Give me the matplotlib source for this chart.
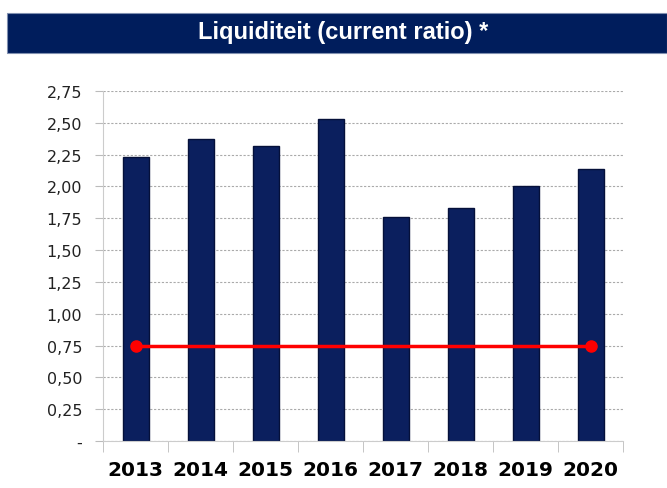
import matplotlib
matplotlib.use("Agg")
import matplotlib.pyplot as plt
from matplotlib.patches import Rectangle

# data
years = ["2013", "2014", "2015", "2016", "2017", "2018", "2019", "2020"]
ratio = [2.23, 2.37, 2.32, 2.53, 1.76, 1.83, 2.00, 2.14]
norm = 0.75
yticks = [0, 0.25, 0.5, 0.75, 1.0, 1.25, 1.5, 1.75, 2.0, 2.25, 2.5, 2.75]
ytick_labels = ["-", "0,25", "0,50", "0,75", "1,00", "1,25", "1,50",
                "1,75", "2,00", "2,25", "2,50", "2,75"]

navy = "#0b1f5e"

fig = plt.figure(figsize=(6.67, 4.89), dpi=100)

# title banner
fig.patches.append(Rectangle((7 / 667, 1 - 54 / 489), 660 / 667, 40 / 489,
                             transform=fig.transFigure, facecolor="#001d5c",
                             edgecolor="#8090b0", linewidth=0.8, zorder=0))
fig.text(343 / 667, 1 - 33 / 489, "Liquiditeit (current ratio) *", color="white",
         fontsize=17, fontweight="bold", family="Liberation Sans",
         ha="center", va="center")

ax = fig.add_axes([103 / 667, 1 - 442 / 489, 520 / 667, 350 / 489])
x = list(range(len(years)))
ax.bar(x, ratio, width=0.4, color=navy, edgecolor="#05103a", linewidth=1.0, zorder=2)
ax.plot([x[0], x[-1]], [norm, norm], color="#ff0000", linewidth=2.5, zorder=3)
ax.plot([x[0], x[-1]], [norm, norm], "o", color="#ff0000", markersize=8, zorder=4)

ax.set_xlim(-0.5, len(years) - 0.5)
ax.set_ylim(0, 2.75)
ax.set_yticks(yticks)
ax.set_yticklabels(ytick_labels, fontsize=11.5, color="#222222", family="DejaVu Sans")
ax.set_xticks(x)
ax.set_xticklabels(years, fontsize=14.5, fontweight="bold", family="DejaVu Sans")
ax.tick_params(axis="x", length=0, pad=14)
ax.set_xticks([i + 0.5 for i in range(-1, len(years))], minor=True)
ax.tick_params(axis="x", which="minor", length=8, color="#bbbbbb")
ax.tick_params(axis="y", length=6, color="#bbbbbb", pad=9)

ax.grid(axis="y", linestyle=(0, (2, 1.5)), color="#aaaaaa", linewidth=0.8, zorder=1)
for s in ["top", "right"]:
    ax.spines[s].set_visible(False)
for s in ["left", "bottom"]:
    ax.spines[s].set_color("#cccccc")

fig.savefig("out.png", dpi=100)
